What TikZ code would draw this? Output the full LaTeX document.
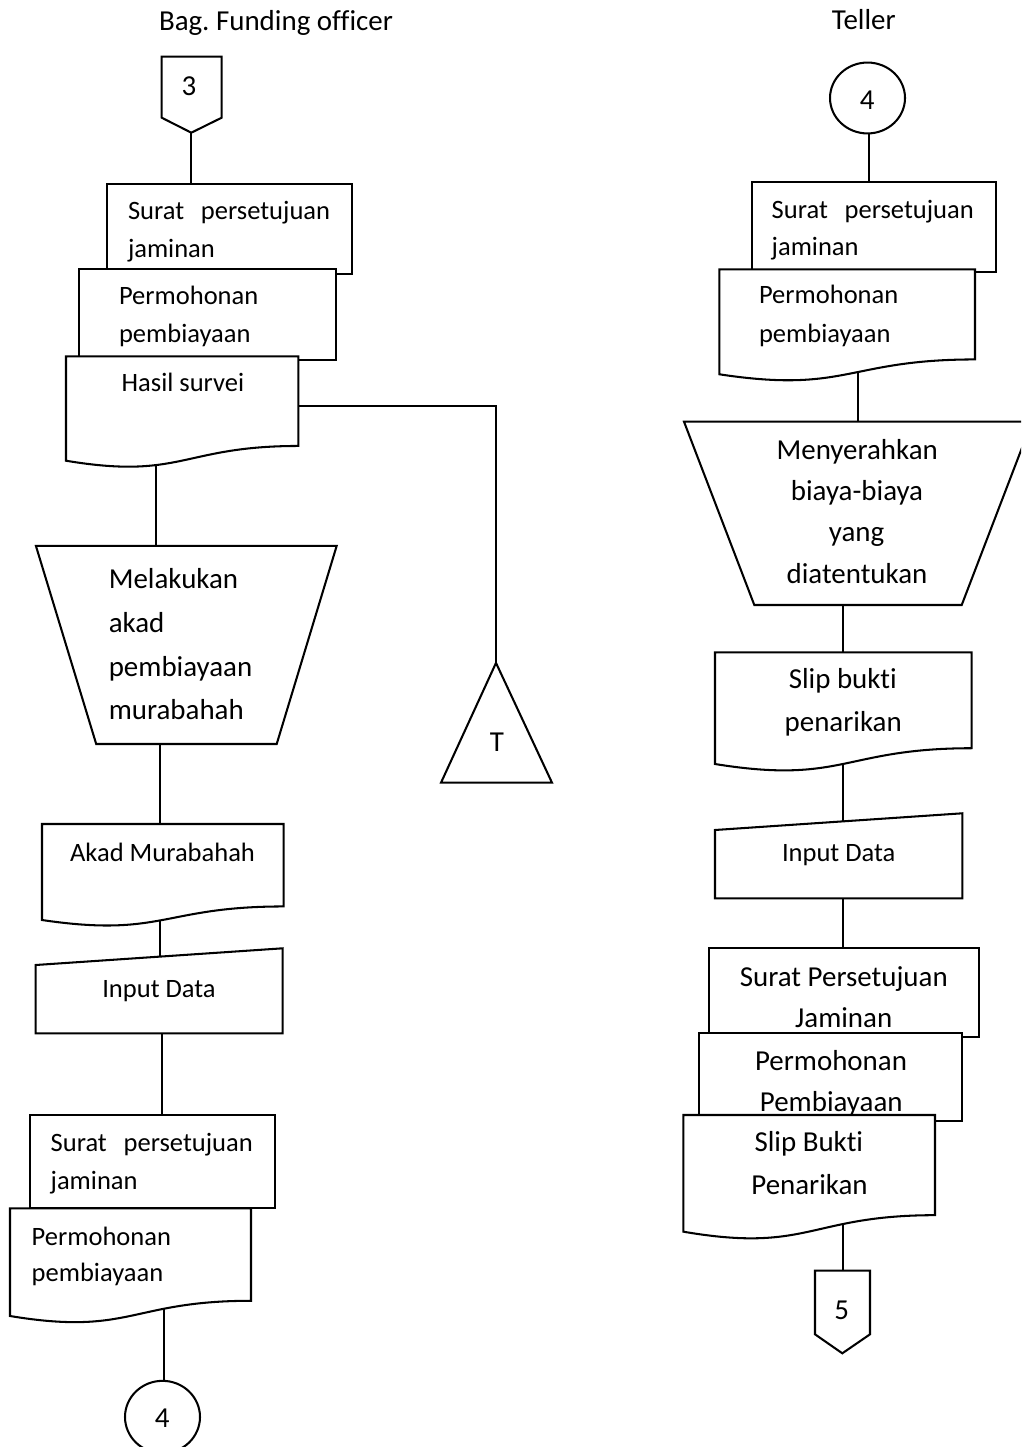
\documentclass[tikz,border=0pt]{standalone}
\usepackage{fontspec}
\setmainfont{Carlito}[Ligatures=NoCommon]
\frenchspacing
\usetikzlibrary{shapes.geometric}
\newcommand\fsm{\fontsize{11pt}{13pt}\selectfont}
\newcommand\fbg{\fontsize{12pt}{14pt}\selectfont}
\newcommand\docshape[4]{\path[shp] (#1,#3) -- (#2,#3) -- (#2,{#3+0.802*#4}) .. controls ({(#1+#2)/2},{#3+0.802*#4}) and ({(#1+#2)/2},{#3+1.1075*#4}) .. (#1,{#3+0.934*#4}) -- cycle;}
\begin{document}
\begin{tikzpicture}[x=0.4147pt,y=-0.4147pt,
  shp/.style={draw,line width=0.85pt,fill=white,line join=miter},
  conn/.style={draw,line width=0.85pt},
  lbl/.style={inner sep=0pt,outer sep=0pt},
  sm/.style={lbl,font=\fsm},
  bg/.style={lbl,font=\fbg},
  conncirc/.style={draw,line width=0.85pt,ellipse,inner sep=0pt,outer sep=0pt,fill=white}]
\useasboundingbox (0,0) rectangle (1021,1447);
\clip (0,0) rectangle (1021,1447);

% ---------- connector end points ----------
% left lane
\coordinate (L3tip) at (191.3,132.7);
\coordinate (Lb1top) at (191.3,183.7);
\coordinate (Lhasilin) at (155.7,440);
\coordinate (Ltraptop) at (155.7,545.8);
\coordinate (Lhasilright) at (298.3,406);
\coordinate (Lbend) at (496,406);
\coordinate (Ltriapex) at (496,662.9);
\coordinate (Ltrapbot) at (160.4,744);
\coordinate (Lakadtop) at (160.4,824);
\coordinate (Lakadin) at (160.2,900);
\coordinate (Linputtop) at (160.2,956.6);
\coordinate (Linputbot) at (162.3,1033.3);
\coordinate (Lb4top) at (162.3,1115);
\coordinate (Lpermin) at (164,1290);
% right lane
\coordinate (Rb1top) at (869.3,182.3);
\coordinate (Rpermin) at (857.7,350);
\coordinate (Rtraptop) at (857.7,421.7);
\coordinate (Rtrapbot) at (842.7,605);
\coordinate (Rsliptop) at (842.7,652.3);
\coordinate (Rslipin) at (842.7,740);
\coordinate (Rinputtop) at (842.7,821.4);
\coordinate (Rinputbot) at (842.7,898.3);
\coordinate (Rb1btop) at (842.7,948.3);
\coordinate (Rslip2in) at (842.7,1200);
\coordinate (R5top) at (842.7,1270.7);

% ---------- circles (on-page connectors) ----------
\node[conncirc,minimum width=31.1pt,minimum height=29.4pt] (R4) at (867.5,98) {};
\node[conncirc,minimum width=31.1pt,minimum height=30pt] (L4) at (162.5,1417) {};

% ---------- connectors ----------
\draw[conn] (L3tip) -- (Lb1top);
\draw[conn] (Lhasilin) -- (Ltraptop);
\draw[conn] (Lhasilright) -- (Lbend) -- (Ltriapex);
\draw[conn] (Ltrapbot) -- (Lakadtop);
\draw[conn] (Lakadin) -- (Linputtop);
\draw[conn] (Linputbot) -- (Lb4top);
\draw[conn] (Lpermin) -- (L4.north -| Lpermin);
\draw[conn] (R4.south -| Rb1top) -- (Rb1top);
\draw[conn] (Rpermin) -- (Rtraptop);
\draw[conn] (Rtrapbot) -- (Rsliptop);
\draw[conn] (Rslipin) -- (Rinputtop);
\draw[conn] (Rinputbot) -- (Rb1btop);
\draw[conn] (Rslip2in) -- (R5top);

% ---------- titles ----------
\node[bg,anchor=base] (tL) at (276,30.7) {Bag. Funding officer};
\node[bg,anchor=base] (tR) at (863.8,30) {Teller};

% ---------- left lane shapes ----------
\path[shp] (161.7,56.7) -- (221.7,56.7) -- (221.7,117.7) -- (L3tip) -- (161.7,117.7) -- cycle;
\node[bg] (n3) at (189,86) {3};

\path[shp] (107.3,183.7) rectangle (351.7,274);
\node[sm,anchor=base west] (Ls1a) at (128,220) {\hbox to 83.8pt{Surat\hfill persetujuan}};
\node[sm,anchor=base west] (Ls1b) at (128,258) {jaminan};
\path[shp] (79.3,269.3) rectangle (335.7,360);
\node[sm,anchor=base west] (Ls2a) at (119,305) {Permohonan};
\node[sm,anchor=base west] (Ls2b) at (119,343) {pembiayaan};
\docshape{66}{298.3}{356.3}{111.8}
\node[sm,anchor=base west] (Ls3) at (121.7,391.7) {Hasil survei};

\path[shp] (35.9,545.8) -- (336.7,545.8) -- (276.7,744) -- (96.2,744) -- cycle;
\node[bg,anchor=base west] (Lm1) at (108.8,588) {Melakukan};
\node[bg,anchor=base west] (Lm2) at (108.8,632) {akad};
\node[bg,anchor=base west] (Lm3) at (108.8,676) {pembiayaan};
\node[bg,anchor=base west] (Lm4) at (108.8,719) {murabahah};

\path[shp] (Ltriapex) -- (552,782.7) -- (441,782.7) -- cycle;
\node[bg] (nT) at (497,742.5) {T};

\docshape{42}{283.6}{824}{102.8}
\node[sm,anchor=base] (La) at (162.5,861.7) {Akad Murabahah};

\path[shp] (35.7,965) -- (282.7,948.3) -- (282.7,1033.3) -- (35.7,1033.3) -- cycle;
\node[sm,anchor=base] (Li) at (159,997.3) {Input Data};

\path[shp] (30,1115) rectangle (274.7,1207.7);
\node[sm,anchor=base west] (Ls4a) at (50.7,1151) {\hbox to 83.8pt{Surat\hfill persetujuan}};
\node[sm,anchor=base west] (Ls4b) at (50.7,1189.3) {jaminan};
\docshape{10}{251}{1208.3}{115.3}
\node[sm,anchor=base west] (Ls5a) at (31.7,1245) {Permohonan};
\node[sm,anchor=base west] (Ls5b) at (31.7,1281.7) {pembiayaan};

\node[bg] (n4L) at (162.3,1417.7) {4};

% ---------- right lane shapes ----------
\node[bg] (n4R) at (867.3,100) {4};

\path[shp] (751.7,182.3) rectangle (995.7,271.7);
\node[sm,anchor=base west] (Rs1a) at (771.7,218.3) {\hbox to 83.8pt{Surat\hfill persetujuan}};
\node[sm,anchor=base west] (Rs1b) at (771.7,256) {jaminan};
\docshape{719.3}{975}{269.3}{112.4}
\node[sm,anchor=base west] (Rs2a) at (759,304) {Permohonan};
\node[sm,anchor=base west] (Rs2b) at (759,342.3) {pembiayaan};

\path[shp] (684,421.7) -- (1032,421.7) -- (961.7,605) -- (754.3,605) -- cycle;
\node[bg,anchor=base] (Rm1) at (857.2,460) {Menyerahkan};
\node[bg,anchor=base] (Rm2) at (857,500.7) {biaya-biaya};
\node[bg,anchor=base] (Rm3) at (856.5,541.7) {yang};
\node[bg,anchor=base] (Rm4) at (857,583.3) {diatentukan};

\docshape{715}{971.7}{652.3}{119.6}
\node[bg,anchor=base] (Rsl1) at (842.8,688.3) {Slip bukti};
\node[bg,anchor=base] (Rsl2) at (843.2,731.7) {penarikan};

\path[shp] (715,830) -- (962.3,813.3) -- (962.3,898.3) -- (715,898.3) -- cycle;
\node[sm,anchor=base] (Ri) at (838.7,861.7) {Input Data};

\path[shp] (709.3,948.3) rectangle (979.3,1036.7);
\node[bg,anchor=base] (Rb1a) at (843.8,986.7) {Surat Persetujuan};
\node[bg,anchor=base] (Rb1b) at (843.7,1027.3) {Jaminan};
\path[shp] (699.3,1033.3) rectangle (962.3,1121.3);
\node[bg,anchor=base] (Rb2a) at (831,1070.7) {Permohonan};
\node[bg,anchor=base] (Rb2b) at (831.2,1111.7) {Pembiayaan};
\docshape{683.3}{935}{1115}{124.9}
\node[bg,anchor=base] (Rb3a) at (808.8,1151.7) {Slip Bukti};
\node[bg,anchor=base] (Rb3b) at (809.5,1194) {Penarikan};

\path[shp] (815,1270.7) -- (870,1270.7) -- (870,1334.3) -- (842.3,1353.3) -- (815,1334.3) -- cycle;
\node[bg] (n5) at (841.7,1310) {5};
\end{tikzpicture}
\end{document}
